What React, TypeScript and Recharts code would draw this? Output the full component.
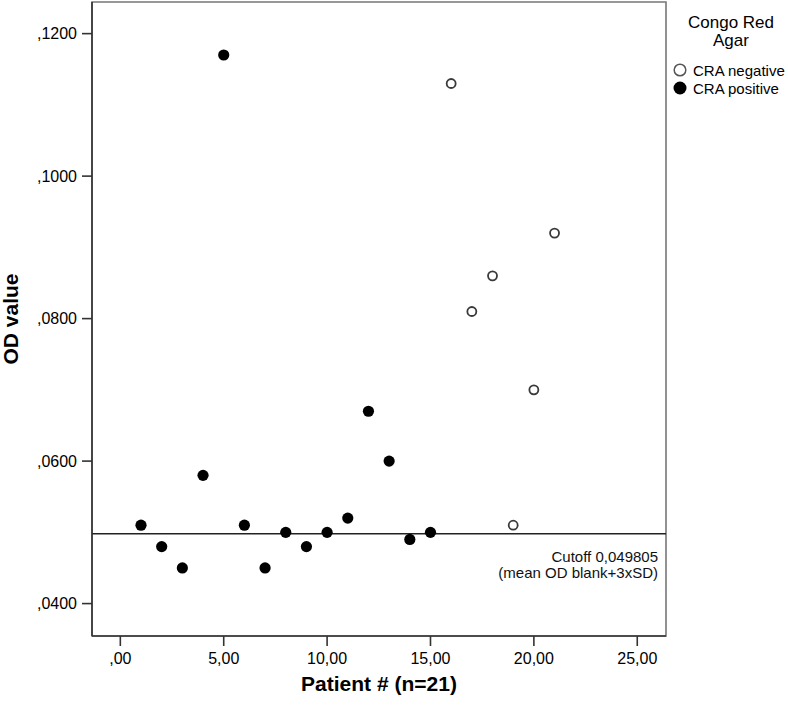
import React from "react";
import {
  ScatterChart,
  Scatter,
  XAxis,
  YAxis,
  ReferenceLine,
  ReferenceArea,
} from "recharts";

const FONT = '"Liberation Sans", Arial, sans-serif';

// CRA positive (filled dots)
const positivePatients = [1, 2, 3, 4, 5, 6, 7, 8, 9, 10, 11, 12, 13, 14, 15];
const positiveOD = [0.051, 0.048, 0.045, 0.058, 0.117, 0.051, 0.045, 0.05, 0.048, 0.05, 0.052, 0.067, 0.06, 0.049, 0.05];

// CRA negative (open circles)
const negativePatients = [16, 17, 18, 19, 20, 21];
const negativeOD = [0.113, 0.081, 0.086, 0.051, 0.07, 0.092];

const xTicks = [0, 5, 10, 15, 20, 25];
const yTicks = [0.04, 0.06, 0.08, 0.1, 0.12];
const cutoff = 0.049805;

const xDomain: [number, number] = [-1.37, 26.39];
const yDomain: [number, number] = [0.03545, 0.12444];

const positiveData = positivePatients.map((x, i) => ({ x, y: positiveOD[i] }));
const negativeData = negativePatients.map((x, i) => ({ x, y: negativeOD[i] }));

const fmtX = (v: number) => (v === 0 ? ",00" : v.toFixed(2).replace(".", ","));
const fmtY = (v: number) => v.toFixed(4).replace("0.", ",");

const FilledDot = (p: any) => <circle cx={p.cx} cy={p.cy} r={5.6} fill="#000" />;
const OpenDot = (p: any) => (
  <circle cx={p.cx} cy={p.cy} r={4.5} fill="#fff" stroke="#3a3a3a" strokeWidth={1.8} />
);

function CutoffLabel(props: any) {
  const vb = props.viewBox || {};
  const right = vb.x + vb.width - 8;
  return (
    <g fontFamily={FONT} fontSize={15} fill="#111" textAnchor="end">
      <text x={right} y={vb.y + 23} dominantBaseline="central">
        Cutoff 0,049805
      </text>
      <text x={right} y={vb.y + 38.5} dominantBaseline="central">
        (mean OD blank+3xSD)
      </text>
    </g>
  );
}

function YTitle(props: any) {
  const vb = props.viewBox || {};
  const cx = 10;
  const cy = vb.y + vb.height / 2;
  return (
    <text
      x={cx}
      y={cy}
      transform={`rotate(-90, ${cx}, ${cy})`}
      textAnchor="middle"
      dominantBaseline="central"
      fontFamily={FONT}
      fontSize={21}
      fontWeight="bold"
      fill="#000"
    >
      OD value
    </text>
  );
}

function XTitle(props: any) {
  const vb = props.viewBox || {};
  return (
    <text
      x={vb.x + vb.width / 2}
      y={vb.y + 47}
      textAnchor="middle"
      dominantBaseline="central"
      fontFamily={FONT}
      fontSize={21}
      fontWeight="bold"
      fill="#000"
    >
      Patient # (n=21)
    </text>
  );
}

function LegendBox() {
  return (
    <svg
      width={116}
      height={100}
      style={{ position: "absolute", left: 672, top: 0 }}
      fontFamily={FONT}
    >
      <text x={59} y={22} fontSize={17} textAnchor="middle" dominantBaseline="central">
        Congo Red
      </text>
      <text x={59} y={40} fontSize={17} textAnchor="middle" dominantBaseline="central">
        Agar
      </text>
      <circle cx={8} cy={70} r={5.8} fill="#fff" stroke="#555" strokeWidth={1.5} />
      <text x={21} y={70} fontSize={15} dominantBaseline="central">
        CRA negative
      </text>
      <circle cx={8} cy={88} r={6.5} fill="#000" />
      <text x={21} y={88} fontSize={15} dominantBaseline="central">
        CRA positive
      </text>
    </svg>
  );
}

export default function App() {
  return (
    <div style={{ position: "absolute", left: 0, top: 0, width: 788, height: 707, background: "#fff" }}>
      <ScatterChart width={788} height={707} margin={{ top: 2, right: 122, bottom: 0, left: 0 }}>
        <ReferenceArea
          x1={xDomain[0]}
          x2={xDomain[1]}
          y1={yDomain[0]}
          y2={yDomain[1]}
          fill="none"
          stroke="#777"
          strokeWidth={1.6}
          ifOverflow="extendDomain"
        />
        <XAxis
          type="number"
          dataKey="x"
          domain={xDomain}
          allowDataOverflow
          ticks={xTicks}
          tickFormatter={fmtX}
          height={71}
          tickSize={10}
          tickMargin={7}
          axisLine={{ stroke: "#333", strokeWidth: 1.6 }}
          tickLine={{ stroke: "#333", strokeWidth: 1.6 }}
          tick={{ fill: "#000", fontSize: 16, fontFamily: FONT }}
          label={<XTitle />}
        />
        <YAxis
          type="number"
          dataKey="y"
          domain={yDomain}
          allowDataOverflow
          ticks={yTicks}
          tickFormatter={fmtY}
          width={92}
          tickSize={10}
          tickMargin={5}
          axisLine={{ stroke: "#333", strokeWidth: 1.6 }}
          tickLine={{ stroke: "#333", strokeWidth: 1.6 }}
          tick={{ fill: "#000", fontSize: 16, fontFamily: FONT }}
          label={<YTitle />}
        />
        <ReferenceLine y={cutoff} stroke="#222" strokeWidth={1.3} label={<CutoffLabel />} />
        <Scatter name="CRA positive" data={positiveData} shape={FilledDot} isAnimationActive={false} />
        <Scatter name="CRA negative" data={negativeData} shape={OpenDot} isAnimationActive={false} />
      </ScatterChart>
      <LegendBox />
    </div>
  );
}
